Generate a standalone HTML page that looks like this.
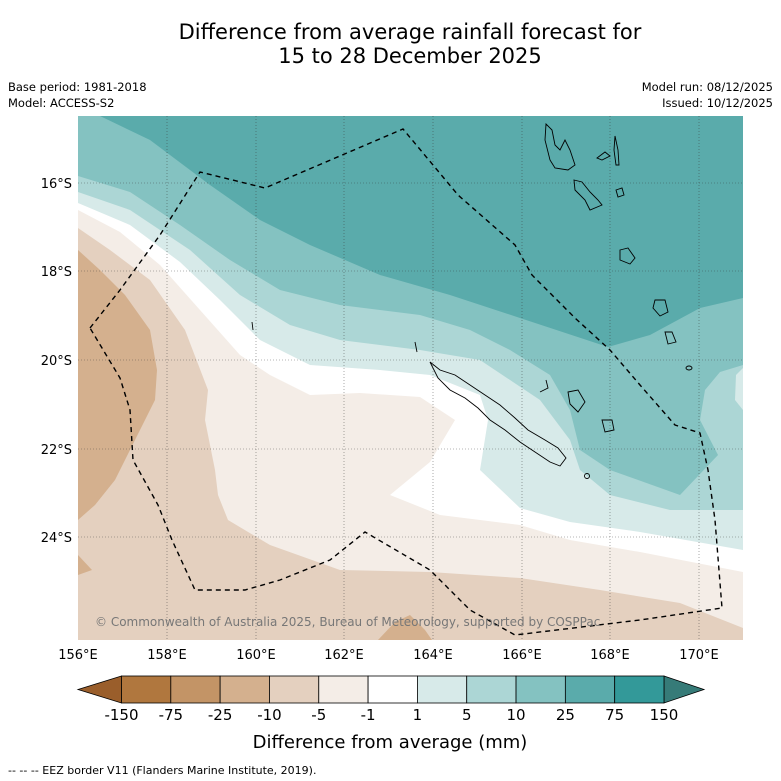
<!DOCTYPE html>
<html><head><meta charset="utf-8"><style>
body{margin:0;background:#fff;font-family:"Liberation Sans","DejaVu Sans",sans-serif}
svg{display:block}
</style></head><body>
<svg id="chart" width="781" height="781" viewBox="0 0 781 781" font-family="DejaVu Sans, Liberation Sans, sans-serif">
<text x="410" y="39" font-size="21" text-anchor="middle">Difference from average rainfall forecast for</text>
<text x="410" y="63" font-size="21" text-anchor="middle">15 to 28 December 2025</text>
<text x="8" y="91" font-size="11.5">Base period: 1981-2018</text>
<text x="8" y="107" font-size="11.5">Model: ACCESS-S2</text>
<text x="773" y="91" font-size="11.5" text-anchor="end">Model run: 08/12/2025</text>
<text x="773" y="107" font-size="11.5" text-anchor="end">Issued: 10/12/2025</text>
<defs><clipPath id="mc"><rect x="78" y="116" width="665" height="524"/></clipPath></defs>
<g id="map" clip-path="url(#mc)">
<rect x="78" y="116" width="665" height="524" fill="#e4d0bf"/>
<polygon fill="#d4b08e" points="78,250 100,270 125,295 150,330 157,370 155,400 135,440 115,480 95,505 78,520"/>
<polygon fill="#d4b08e" points="78,555 92,570 78,575"/>
<polygon fill="#d4b08e" points="378,640 395,622 410,615 425,630 432,640"/>
<polygon fill="#f4ede7" points="78,228 110,250 150,280 185,330 208,390 205,420 215,470 218,495 228,520 270,545 340,570 430,572 520,578 600,590 680,603 743,628 743,116 78,116"/>
<polygon fill="#ffffff" points="78,210 120,232 160,265 200,310 240,355 270,375 310,395 360,393 420,397 455,420 430,462 390,495 440,515 520,525 570,540 640,552 743,572 743,116 78,116"/>
<polygon fill="#d7eae9" points="78,203 130,225 180,262 220,300 260,340 310,365 380,370 430,375 480,395 488,420 480,470 520,508 570,522 640,532 743,550 743,116 78,116"/>
<polygon fill="#acd6d5" points="78,192 130,210 190,250 240,295 290,325 340,340 420,350 480,360 540,400 570,440 580,470 610,495 670,510 743,510 743,116 78,116"/>
<polygon fill="#84c2c1" points="78,176 130,192 180,225 230,260 280,290 340,305 420,315 470,330 510,350 550,375 570,410 580,450 610,470 680,495 718,455 700,420 705,390 720,372 743,365 743,116 78,116"/>
<polygon fill="#d7eae9" points="743,368 736,375 735,400 743,410"/>
<polygon fill="#5aabab" points="100,116 150,140 210,185 260,220 310,245 380,275 450,295 520,318 608,347 650,335 700,308 743,298 743,116"/>
<g stroke="#333" stroke-width="0.6" stroke-dasharray="1,2" opacity="0.7">
<line x1="167" y1="116" x2="167" y2="640"/><line x1="256" y1="116" x2="256" y2="640"/><line x1="344" y1="116" x2="344" y2="640"/><line x1="433" y1="116" x2="433" y2="640"/><line x1="522" y1="116" x2="522" y2="640"/><line x1="610" y1="116" x2="610" y2="640"/><line x1="699" y1="116" x2="699" y2="640"/>
<line x1="78" y1="183" x2="743" y2="183"/><line x1="78" y1="271" x2="743" y2="271"/><line x1="78" y1="360" x2="743" y2="360"/><line x1="78" y1="449" x2="743" y2="449"/><line x1="78" y1="537" x2="743" y2="537"/>
</g>
<g fill="none" stroke="#000" stroke-width="0.9">
<path d="M430,362 L440,370 L455,375 L470,385 L485,395 L500,405 L515,418 L528,430 L545,440 L558,448 L566,458 L560,466 L550,462 L535,452 L520,442 L505,430 L490,420 L478,408 L465,398 L450,390 L438,378 Z"/>
<path d="M546,124 L552,130 L555,145 L560,150 L565,140 L570,150 L575,165 L568,170 L555,168 L550,160 L545,140 Z"/>
<path d="M574,180 L582,182 L590,192 L598,200 L602,205 L590,210 L585,200 L575,190 Z"/>
<path d="M615,136 L618,150 L619,165 L616,165 L614,150 Z"/>
<path d="M597,158 L605,152 L610,156 L602,160 Z"/>
<path d="M620,250 L628,248 L635,258 L630,264 L620,260 Z"/>
<path d="M616,190 L622,188 L624,195 L618,197 Z"/>
<path d="M655,300 L665,300 L668,312 L660,316 L653,308 Z"/>
<path d="M665,332 L672,332 L676,342 L668,344 Z"/>
<path d="M568,392 L578,390 L585,402 L578,412 L570,404 Z"/>
<path d="M602,420 L612,420 L614,430 L605,432 Z"/>
<path d="M546,380 L548,388 L540,392"/>
<ellipse cx="689" cy="368" rx="3" ry="2"/><ellipse cx="587" cy="476" rx="2.5" ry="2.5"/>
<path d="M252,322 L253,330"/><path d="M415,342 L417,352"/>
</g>
<path fill="none" stroke="#000" stroke-width="1.4" stroke-dasharray="5,4" d="M90,328 L120,290 L160,235 L200,172 L265,188 L403,129 L458,195 L515,245 L532,275 L575,318 L610,350 L640,385 L675,425 L700,433 L708,470 L715,520 L722,608 L640,620 L515,635 L470,610 L430,570 L365,532 L330,560 L280,580 L245,590 L195,590 L172,540 L158,505 L133,460 L130,410 L120,378 Z"/>
<text x="95" y="626" font-size="12" fill="#777">© Commonwealth of Australia 2025, Bureau of Meteorology, supported by COSPPac</text>
</g>
<g font-size="13" text-anchor="middle">
<text x="78" y="659">156°E</text><text x="167" y="659">158°E</text><text x="256" y="659">160°E</text><text x="344" y="659">162°E</text><text x="433" y="659">164°E</text><text x="522" y="659">166°E</text><text x="610" y="659">168°E</text><text x="699" y="659">170°E</text>
</g>
<g font-size="13" text-anchor="end">
<text x="72" y="188">16°S</text><text x="72" y="276">18°S</text><text x="72" y="365">20°S</text><text x="72" y="454">22°S</text><text x="72" y="542">24°S</text>
</g>
<g id="cbar"></g>
<text x="390" y="748" font-size="18" text-anchor="middle">Difference from average (mm)</text>
<text x="8" y="774" font-size="11">--  --  -- EEZ border V11 (Flanders Marine Institute, 2019).</text>
</svg>
<script>
const levels=["-150","-75","-25","-10","-5","-1","1","5","10","25","75","150"];
const colors=["#b0773e","#c39466","#d4b08e","#e4d0bf","#f4ede7","#ffffff","#d7eae9","#acd6d5","#84c2c1","#5aabab","#339999"];
const lowExt="#9a5e2b", highExt="#367b78";
const NS="http://www.w3.org/2000/svg";
const g=document.getElementById('cbar');
const x0=121.5,x1=664,y0=676,y1=703,w=(x1-x0)/colors.length;
function mk(t,a){const e=document.createElementNS(NS,t);for(const k in a)e.setAttribute(k,a[k]);g.appendChild(e);return e;}
let t1=mk('polygon',{points:`${x0},${y0} 78,${(y0+y1)/2} ${x0},${y1}`,fill:lowExt,stroke:'#000','stroke-width':0.8});


let t2=mk('polygon',{points:`${x1},${y0} 704,${(y0+y1)/2} ${x1},${y1}`,fill:highExt,stroke:'#000','stroke-width':0.8});


colors.forEach((c,i)=>{
 const r=mk('rect',{x:x0+i*w,y:y0,width:w,height:y1-y0,fill:c,stroke:'#000','stroke-width':0.8});
 
 
});
levels.forEach((l,i)=>{
 const t=mk('text',{x:x0+i*w,y:720,'font-size':15,'text-anchor':'middle'});
 t.textContent=l;
 
 
});
</script>
</body></html>
